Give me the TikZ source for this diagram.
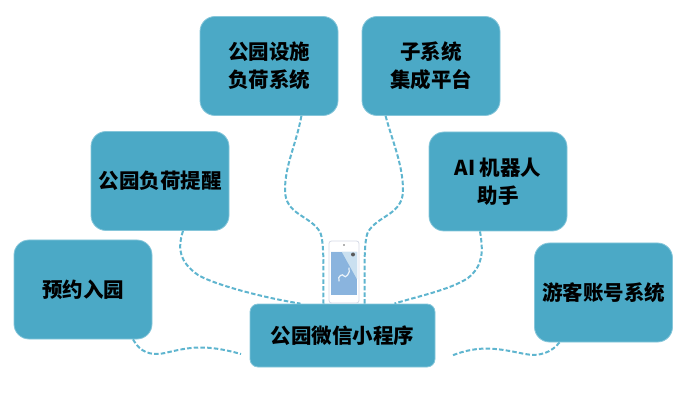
\documentclass[tikz,border=0pt]{standalone}
\usepackage{fontspec}
\setmainfont{Noto Sans CJK SC}
\definecolor{boxfill}{HTML}{4BA9C6}
\definecolor{boxedge}{HTML}{86C6DA}
\definecolor{linkblue}{HTML}{5FB5CF}
\definecolor{framegrey}{HTML}{D5DAE6}
\definecolor{screenA}{HTML}{B4D3EA}
\definecolor{screenB}{HTML}{8AB4DE}
\tikzset{
  x=1pt,y=-1pt,
  cardbox/.style={draw=boxedge,line width=0.8pt,fill=boxfill,rounded corners=15pt,minimum width=138pt,minimum height=99pt,inner sep=0pt,align=center,text=black,font=\fontsize{20.5}{28}\selectfont\bfseries},
  hubbox/.style={cardbox,rounded corners=8pt,minimum width=185pt,minimum height=63pt},
  linkline/.style={draw=linkblue,line width=2pt,dash pattern=on 4.5pt off 2.2pt},
}
\begin{document}
\begin{tikzpicture}
\useasboundingbox (0,0) rectangle (693,403);
\node[cardbox] (yuyue) at (83,289.5) {预约入园};
\node[cardbox] (tixing) at (160,181) {公园负荷提醒};
\node[cardbox] (sheshi) at (269,66) {公园设施\\负荷系统};
\node[cardbox] (zixt) at (431,66) {子系统\\集成平台};
\node[cardbox] (airobot) at (498,181.5) {AI 机器人\\助手};
\node[cardbox] (youke) at (603.5,292.5) {游客账号系统};
\node[hubbox] (hub) at (342.5,335.5) {公园微信小程序};
\coordinate (endL) at (241,354);
\coordinate (endR) at (451,356);
% phone
\node[draw=framegrey,line width=0.8pt,fill=white,rounded corners=2.5pt,minimum width=30pt,minimum height=62pt,inner sep=0pt] (phone) at (344,272) {};
\node[fill=screenB,minimum width=26pt,minimum height=43pt,inner sep=0pt] (screen) at (344,273.5) {};
\fill[screenA] (screen.north west) -- (screen.north east) -- (357,279) -- (342,252) -- cycle;
\fill[screenA!70!white] (342,252) -- (357,252) -- (357,279) -- cycle;
\draw[white!75!screenA,line width=1.2pt,line cap=round] (339,281) .. controls (337,276) and (343,273) .. (344,276) .. controls (345,279) and (351,273) .. (349,268);
\fill[black!65] (353,254.5) circle (2pt);
\fill[black!60] (344,245) circle (0.8pt);
% connectors
\draw[linkline] ([xshift=-37]sheshi.south east) .. controls (296,145) and (285,165) .. (285,190) .. controls (285,215) and (310,215) .. (320,232) .. controls (325,242) and (323,280) .. ([xshift=-19]hub.north);
\draw[linkline] ([xshift=24]zixt.south west) .. controls (392,140) and (403,165) .. (403,190) .. controls (403,215) and (378,215) .. (368,232) .. controls (363,242) and (365,280) .. ([xshift=22]hub.north);
\draw[linkline] ([xshift=23]tixing.south) .. controls (177,250) and (180,262) .. (198,275) .. controls (215,285) and (265,298) .. ([xshift=-42]hub.north);
\draw[linkline] ([xshift=-18]airobot.south) .. controls (483,250) and (484,265) .. (468,278) .. controls (450,290) and (415,297) .. ([xshift=52]hub.north);
\draw[linkline] ([xshift=50]yuyue.south) .. controls (140,352) and (150,356) .. (165,353) .. controls (190,347) and (205,344) .. (endL);
\draw[linkline] ([xshift=-44]youke.south) .. controls (552,352) and (540,357) .. (525,354) .. controls (500,349) and (480,344) .. (endR);
\end{tikzpicture}
\end{document}
